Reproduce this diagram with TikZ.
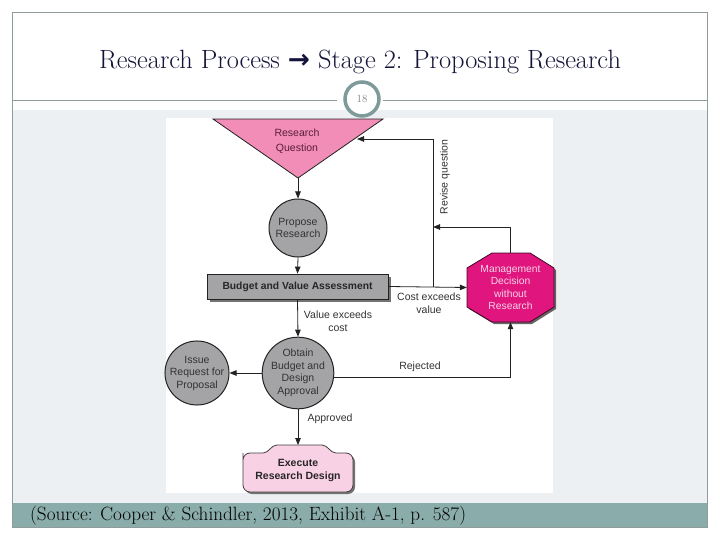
\documentclass[tikz,border=0pt]{standalone}
\usepackage{fontspec}
\usetikzlibrary{arrows.meta,calc,shapes.geometric}
\newfontfamily\dsf{Liberation Sans}
\newfontfamily\dvs{DejaVu Sans}
\definecolor{framegray}{HTML}{8E9C9C}
\definecolor{bglight}{HTML}{EDF0F3}
\definecolor{barteal}{HTML}{8AACAA}
\definecolor{ringteal}{HTML}{7F9A9A}
\definecolor{titleblue}{HTML}{14143A}
\definecolor{rqpink}{HTML}{F28DB7}
\definecolor{rqtext}{HTML}{5A1E3C}
\definecolor{nodegray}{HTML}{A4A4A6}
\definecolor{mgmtmag}{HTML}{E0157E}
\definecolor{mgmttext}{HTML}{F7D3E7}
\definecolor{execpink}{HTML}{F9D1E4}
\definecolor{linedark}{HTML}{222222}
\definecolor{labeltext}{HTML}{333333}
\tikzset{
  conn/.style={draw=linedark, line width=0.8pt},
  arr/.style={conn, -{Triangle[length=7pt,width=5.5pt]}},
  circnode/.style={circle, fill=nodegray, draw=linedark, line width=1pt,
     inner sep=0pt, align=center, font=\dsf\fontsize{10.5}{12.5}\selectfont, text=labeltext},
  lbl/.style={align=center, font=\dsf\fontsize{10.5}{13}\selectfont, text=labeltext, inner sep=0pt},
}
\begin{document}
\begin{tikzpicture}[x=1pt,y=-1pt]
\useasboundingbox (0,0) rectangle (720,540);
\fill[white] (0,0) rectangle (720,540);
% slide background
\fill[bglight] (12,110) rectangle (707,503);
\fill[barteal] (12,503) rectangle (707,527);
\draw[framegray, line width=0.8pt] (12,12) rectangle (707,527);
\draw[framegray, line width=0.8pt] (12,100) -- (337,100);
\draw[framegray, line width=0.8pt] (383,100) -- (707,100);
\node[circle, fill=white, draw=ringteal, line width=3.5pt, minimum size=34pt, inner sep=0pt,
      font=\fontsize{11}{12}\selectfont, text=gray] (pg) at (362,99) {18};
\node[font=\fontsize{26.4}{30}\selectfont, text=titleblue] (title) at (360,62)
  {Research Process {\dvs\bfseries →} Stage 2: Proposing Research};
\node[anchor=west, font=\fontsize{19.2}{22}\selectfont, inner sep=0pt] (src) at (30,516)
  {(Source: Cooper \& Schindler, 2013, Exhibit A-1, p. 587)};
% image area
\fill[white] (166,118) rectangle (553,493);
% research question triangle
\filldraw[fill=rqpink, draw=linedark, line width=0.8pt] (213,119) -- (383,119) -- (298,178) -- cycle;
\node[lbl, text=rqtext, font=\dsf\fontsize{10.5}{15}\selectfont] (rq) at (297,141) {Research\\Question};
\coordinate (rqtip) at (298,178);
\coordinate (rqright) at (357,139);
% propose research
\node[circnode, minimum size=58pt] (prop) at (298,228) {Propose\\Research};
% budget box
\fill[black!55] (209.5,276.5) rectangle (390.5,301.5);
\node[rectangle, fill=nodegray, draw=linedark, line width=0.8pt, minimum width=181pt, minimum height=25pt,
      inner sep=0pt, font=\dsf\bfseries\fontsize{10.3}{12}\selectfont, text=black!85] (budget) at (297.5,286.5)
  {Budget and Value Assessment};
% management octagon
\fill[black!60] (494,255) -- (532,255) -- (556,270) -- (556,309) -- (532,324) -- (494,324) -- (469,309) -- (469,270) -- cycle;
\filldraw[fill=mgmtmag, draw=black!70!mgmtmag, line width=0.8pt]
  (492,253) -- (530,253) -- (554,268) -- (554,307) -- (530,322) -- (492,322) -- (467,307) -- (467,268) -- cycle;
\node[rectangle, minimum width=87pt, minimum height=69pt, inner sep=0pt, align=center,
      font=\dsf\fontsize{10.3}{12.5}\selectfont, text=mgmttext] (mgmt) at (510.5,287.5)
  {Management\\Decision\\without\\Research};
% obtain & issue
\node[circnode, minimum size=66pt] (obtain) at (298,373) {Obtain\\Budget and\\Design\\Approval};
\node[circnode, minimum size=60pt] (issue) at (197,373) {Issue\\Request for\\Proposal};
% execute
\fill[black!55] (245,462) [rounded corners=7pt] -- (245,494) -- (355,494) -- (355,455)
  [sharp corners] -- (338,455) .. controls (332,455) and (330,447) .. (324,447) -- (279,447)
  .. controls (273,447) and (271,455) .. (265,455) [rounded corners=7pt] -- (245,455) -- (245,462);
\filldraw[fill=execpink, draw=black!75, line width=0.8pt] (243,460) [rounded corners=7pt] -- (243,492) -- (353,492) -- (353,453)
  [sharp corners] -- (336,453) .. controls (330,453) and (328,445) .. (322,445) -- (277,445)
  .. controls (271,445) and (269,453) .. (263,453) [rounded corners=7pt] -- (243,453) -- cycle;
\node[align=center, inner sep=0pt, font=\dsf\bfseries\fontsize{10.5}{13}\selectfont, text=black!85] (exec) at (298,470)
  {Execute\\Research Design};
\coordinate (exectop) at (298,445);
% connectors
\coordinate (j1) at (433,287);
\coordinate (j2) at (433,227);
\draw[arr] (rqtip) -- (prop.north);
\draw[arr] (prop.south) -- (budget.north);
\draw[arr] (budget.east) -- (mgmt.west);
\draw[arr] (j1) |- (rqright);
\draw[arr] (mgmt.north) |- (j2);
\draw[arr] (budget.south) -- (obtain.north);
\draw[arr] (obtain.west) -- (issue.east);
\draw[arr] (obtain.-7) -| (mgmt.south);
\draw[arr] (obtain.south) -- (exectop);
% labels
\node[lbl] (lcost) at (429,303) {Cost exceeds\\value};
\node[lbl, rotate=90] (lrev) at (445,177) {Revise question};
\node[lbl] (lval) at (338,321) {Value exceeds\\cost};
\node[lbl] (lrej) at (420,367) {Rejected};
\node[lbl] (lapp) at (330,419) {Approved};
\end{tikzpicture}
\end{document}
